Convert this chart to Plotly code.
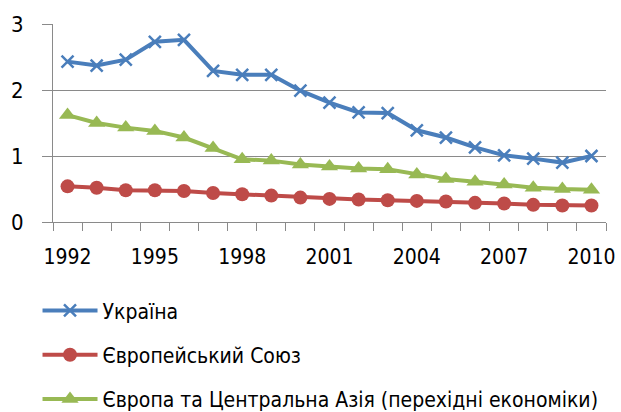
import plotly.graph_objects as go

years = list(range(1992, 2011))
ukraine = [2.43, 2.37, 2.46, 2.73, 2.76, 2.29, 2.23, 2.23, 1.99, 1.81,
           1.66, 1.65, 1.39, 1.28, 1.13, 1.01, 0.96, 0.90, 1.00]
eu = [0.54, 0.52, 0.48, 0.48, 0.47, 0.44, 0.42, 0.40, 0.37, 0.35,
      0.34, 0.33, 0.32, 0.31, 0.29, 0.28, 0.26, 0.25, 0.25]
eca = [1.62, 1.50, 1.43, 1.38, 1.28, 1.12, 0.95, 0.93, 0.87, 0.84,
       0.81, 0.80, 0.72, 0.65, 0.61, 0.57, 0.52, 0.50, 0.49]
names = ["Україна", "Європейський Союз",
         "Європа та Центральна Азія (перехідні економіки)"]
x_tick_labels = [1992, 1995, 1998, 2001, 2004, 2007, 2010]
y_ticks = [0, 1, 2, 3]

FONT = "Liberation Sans Narrow, DejaVu Sans Condensed, Liberation Sans, Arial"
GRID = "#8a8a8a"

fig = go.Figure()
fig.add_trace(go.Scatter(
    x=years, y=ukraine, name=names[0], mode="lines+markers", legendgroup="a",
    line=dict(color="#4a7ebb", width=4),
    marker=dict(symbol="x-thin", size=12, color="#4a7ebb",
                line=dict(color="#4a7ebb", width=2.5))))
fig.add_trace(go.Scatter(
    x=years, y=eu, name=names[1], mode="lines+markers", legendgroup="b",
    line=dict(color="#be4b48", width=4),
    marker=dict(symbol="circle", size=14, color="#be4b48")))
fig.add_trace(go.Scatter(
    x=years, y=eca, name=names[2], mode="lines+markers", legendgroup="c",
    line=dict(color="#98b954", width=4),
    marker=dict(symbol="triangle-up", size=15, color="#98b954")))

fig.update_layout(
    width=621, height=412,
    margin=dict(l=53, r=15, t=24, b=190, autoexpand=False),
    paper_bgcolor="white", plot_bgcolor="white",
    font=dict(family=FONT, size=22, color="#000000"),
    showlegend=True,
    legend=dict(orientation="v", x=-0.028, y=-0.345,
                xanchor="left", yanchor="top", itemwidth=55,
                tracegroupgap=14, font=dict(size=21),
                bgcolor="rgba(0,0,0,0)"),
    xaxis=dict(range=[1991.5, 2010.5], tickmode="array",
               tickvals=x_tick_labels, ticktext=[str(v) for v in x_tick_labels],
               ticks="outside", ticklen=0, ticklabelstandoff=16,
               showgrid=False, zeroline=False, showline=True,
               linecolor=GRID, linewidth=1,
               minor=dict(tickmode="array",
                          tickvals=[y - 0.5 for y in years] + [2010.5],
                          ticks="outside", ticklen=8, tickcolor=GRID,
                          showgrid=False),
               tickfont=dict(size=21)),
    yaxis=dict(range=[0, 3], tickvals=y_ticks, ticks="outside", ticklen=10,
               tickcolor=GRID, showgrid=True, gridcolor=GRID, gridwidth=1,
               zeroline=False, showline=True, linecolor=GRID, linewidth=1,
               ticklabelstandoff=14, tickfont=dict(size=22)),
)

fig.write_html("out.html",
               config={"displayModeBar": False},
               post_script="document.body.style.margin='0';"
                           "document.body.style.overflow='hidden';")
